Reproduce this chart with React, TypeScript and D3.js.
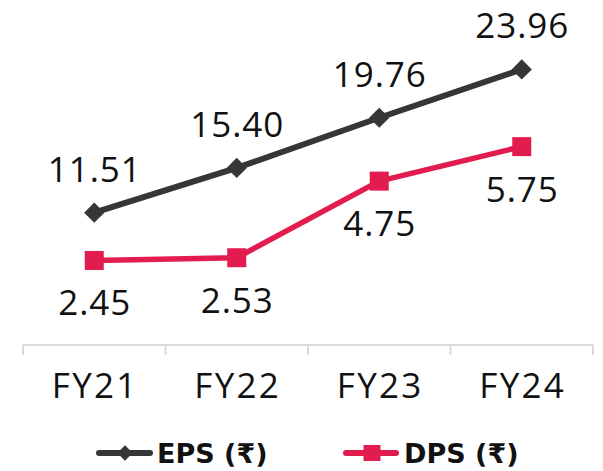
import React from "react";
import * as d3 from "d3";

const categories = ["FY21", "FY22", "FY23", "FY24"];
const epsValues = [11.51, 15.4, 19.76, 23.96];
const dpsValues = [2.45, 2.53, 4.75, 5.75];
const epsLabels = ["11.51", "15.40", "19.76", "23.96"];
const dpsLabels = ["2.45", "2.53", "4.75", "5.75"];
const legendNames = ["EPS (₹)", "DPS (₹)"];

const W = 603;
const H = 471;
const EPS_COLOR = "#363636";
const DPS_COLOR = "#e31c4f";
const FONT = "'Open Sans', 'Noto Sans', 'DejaVu Sans', sans-serif";
const LEGEND_FONT = "'DejaVu Sans', 'Noto Sans', sans-serif";

export default function App() {
  const x = d3.scaleBand<string>().domain(categories).range([23, 593]).padding(0);
  const yEps = d3.scaleLinear().domain([0, 30]).range([345, 0]);
  const yDps = d3.scaleLinear().domain([0, 10]).range([345, 0]);
  const cx = (c: string) => (x(c) as number) + x.bandwidth() / 2;

  const epsLine = d3
    .line<number>()
    .x((_, i) => cx(categories[i]))
    .y((d) => yEps(d));
  const dpsLine = d3
    .line<number>()
    .x((_, i) => cx(categories[i]))
    .y((d) => yDps(d));

  const tickXs = [...categories.map((c) => x(c) as number), x.range()[1]];
  const diamond = d3.symbol().type(d3.symbolDiamond2).size(260)();

  return (
    <svg
      width={W}
      height={H}
      style={{ position: "absolute", left: 0, top: 0, background: "#fff" }}
      fontFamily={FONT}
    >
      {/* axis */}
      <line x1={x.range()[0]} x2={x.range()[1]} y1={345} y2={345} stroke="#d9d9d9" strokeWidth={2} />
      {tickXs.map((t, i) => (
        <line key={i} x1={t} x2={t} y1={345} y2={355} stroke="#d9d9d9" strokeWidth={2} />
      ))}
      {categories.map((c) => (
        <text key={c} x={cx(c) + 1} y={398} textAnchor="middle" fontSize={35} fill="#111" letterSpacing={2.3}>
          {c}
        </text>
      ))}

      {/* EPS */}
      <path d={epsLine(epsValues) || ""} fill="none" stroke={EPS_COLOR} strokeWidth={6} strokeLinejoin="round" />
      {epsValues.map((v, i) => (
        <path key={i} d={diamond || ""} transform={`translate(${cx(categories[i])},${yEps(v)})`} fill={EPS_COLOR} />
      ))}
      {epsValues.map((v, i) => (
        <text key={i} x={cx(categories[i]) + 0.5} y={yEps(v) - 31} textAnchor="middle" fontSize={35} fill="#111" letterSpacing={1}>
          {epsLabels[i]}
        </text>
      ))}

      {/* DPS */}
      <path d={dpsLine(dpsValues) || ""} fill="none" stroke={DPS_COLOR} strokeWidth={5.5} strokeLinejoin="round" />
      {dpsValues.map((v, i) => (
        <rect key={i} x={cx(categories[i]) - 9.5} y={yDps(v) - 9.5} width={19} height={19} fill={DPS_COLOR} />
      ))}
      {dpsValues.map((v, i) => (
        <text key={i} x={cx(categories[i]) + 0.5} y={yDps(v) + 55} textAnchor="middle" fontSize={35} fill="#111" letterSpacing={1}>
          {dpsLabels[i]}
        </text>
      ))}

      {/* legend */}
      <g>
        <line x1={99} x2={150} y1={453} y2={453} stroke={EPS_COLOR} strokeWidth={6} strokeLinecap="round" />
        <path d={d3.symbol().type(d3.symbolDiamond2).size(150)() || ""} transform="translate(125,453)" fill={EPS_COLOR} />
        <text x={157} y={463} fontSize={27} fontWeight={700} fill="#111" fontFamily={LEGEND_FONT}>
          {legendNames[0]}
        </text>
        <line x1={346} x2={396} y1={453} y2={453} stroke={DPS_COLOR} strokeWidth={6} strokeLinecap="round" />
        <rect x={363.5} y={445} width={17} height={16} fill={DPS_COLOR} />
        <text x={404} y={463} fontSize={27} fontWeight={700} fill="#111" fontFamily={LEGEND_FONT}>
          {legendNames[1]}
        </text>
      </g>
    </svg>
  );
}
